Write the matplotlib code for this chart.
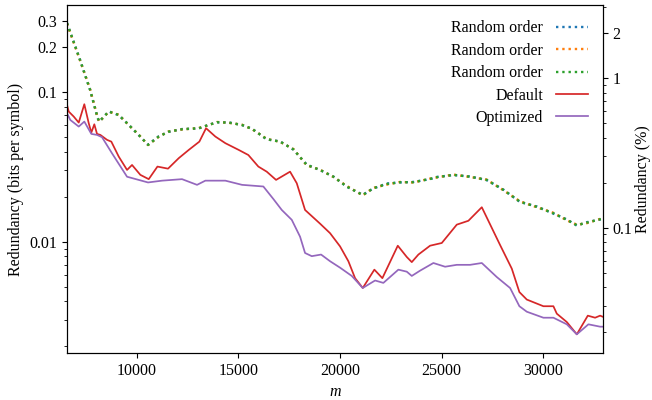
import matplotlib
matplotlib.use("Agg")
import matplotlib.pyplot as plt
from matplotlib.ticker import FixedLocator, FixedFormatter, NullFormatter

plt.rcParams["font.family"] = ["Liberation Serif", "DejaVu Serif"]
plt.rcParams["font.size"] = 11.5

# Random orderings (three runs, nearly identical)
m_random = [6570, 7210, 7702, 8081, 8160, 8622, 9114, 9606, 10098, 10556,
            11083, 11575, 12229, 13051, 13543, 13952, 14527, 15182, 15674, 16397,
            17052, 17706, 18366, 19020, 19675, 20334, 21121, 21643, 22303, 22957,
            23611, 24433, 24763, 25580, 26402, 27223, 28040, 28862, 29684, 30501,
            31161, 31653, 32145, 32947]
random_1 = [0.290, 0.165, 0.104, 0.067, 0.0636, 0.0745, 0.0702, 0.0606, 0.0516, 0.0446,
            0.0507, 0.0543, 0.0567, 0.0572, 0.0606, 0.0628, 0.0628, 0.0602, 0.0570, 0.0483,
            0.0469, 0.0413, 0.0328, 0.0301, 0.0273, 0.0233, 0.0206, 0.0227, 0.0245, 0.0249,
            0.0251, 0.0262, 0.0271, 0.0279, 0.0273, 0.0258, 0.0223, 0.0184, 0.0172, 0.0154,
            0.0141, 0.0128, 0.0135, 0.0142]
random_2 = [0.288, 0.163, 0.105, 0.067, 0.0634, 0.0740, 0.0707, 0.0602, 0.0520, 0.0443,
            0.0503, 0.0547, 0.0563, 0.0576, 0.0602, 0.0632, 0.0624, 0.0606, 0.0566, 0.0487,
            0.0465, 0.0417, 0.0324, 0.0303, 0.0271, 0.0236, 0.0204, 0.0229, 0.0241, 0.0251,
            0.0249, 0.0264, 0.0269, 0.0281, 0.0271, 0.0260, 0.0221, 0.0186, 0.0170, 0.0156,
            0.0139, 0.0130, 0.0133, 0.0144]
random_3 = [0.290, 0.164, 0.104, 0.067, 0.0636, 0.0742, 0.0705, 0.0604, 0.0518, 0.0444,
            0.0505, 0.0545, 0.0565, 0.0574, 0.0604, 0.0630, 0.0626, 0.0604, 0.0568, 0.0485,
            0.0467, 0.0415, 0.0326, 0.0302, 0.0272, 0.0234, 0.0205, 0.0228, 0.0243, 0.0250,
            0.0250, 0.0263, 0.0270, 0.0280, 0.0272, 0.0259, 0.0222, 0.0185, 0.0171, 0.0155,
            0.0140, 0.0129, 0.0134, 0.0143]

m_default = [6570, 6654, 6900, 7146, 7421, 7638, 7766, 7913, 8046, 8209,
             8538, 8750, 9114, 9523, 9769, 10177, 10590, 11019, 11540, 12067,
             12559, 13081, 13410, 13868, 14360, 15019, 15492, 15984, 16397, 16855,
             17544, 17874, 18282, 19020, 19512, 20004, 20413, 20743, 21121, 21692,
             22086, 22844, 23287, 23533, 23858, 24433, 25009, 25747, 26318, 26978,
             27878, 28454, 28828, 29192, 30009, 30501, 30668, 31161, 31653, 32194,
             32553, 32799, 33045]
default = [0.0822, 0.0742, 0.0687, 0.0626, 0.0831, 0.0620, 0.0537, 0.0610, 0.0526, 0.0518,
           0.0480, 0.0467, 0.0371, 0.0302, 0.0326, 0.0280, 0.0262, 0.0318, 0.0308, 0.0362,
           0.0411, 0.0467, 0.0574, 0.0505, 0.0456, 0.0411, 0.0380, 0.0318, 0.0294, 0.0259,
           0.0294, 0.0246, 0.0163, 0.0132, 0.0114, 0.0093, 0.0074, 0.0057, 0.0049, 0.0065,
           0.0057, 0.0094, 0.0079, 0.0073, 0.0082, 0.0094, 0.0098, 0.0130, 0.0138, 0.0170,
           0.0095, 0.0066, 0.0046, 0.0041, 0.0037, 0.0037, 0.0033, 0.0029, 0.0024, 0.0032,
           0.0031, 0.0032, 0.0031]

m_optimized = [6570, 6732, 7146, 7421, 7766, 8046, 8292, 8784, 9523, 10556,
               11245, 12229, 12967, 13376, 14360, 15182, 16230, 16722, 17136, 17628,
               18036, 18282, 18612, 19070, 19512, 20004, 20580, 21121, 21727, 22135,
               22873, 23287, 23533, 23941, 24596, 25172, 25747, 26402, 26978, 27716,
               28370, 28828, 29192, 30009, 30501, 31161, 31653, 32224, 32799, 33045]
optimized = [0.0723, 0.0652, 0.0589, 0.0636, 0.0526, 0.0518, 0.0500, 0.0390, 0.0272, 0.0249,
             0.0256, 0.0262, 0.0240, 0.0256, 0.0256, 0.0240, 0.0234, 0.0193, 0.0163, 0.0140,
             0.0108, 0.0084, 0.0080, 0.0082, 0.0074, 0.0067, 0.0059, 0.0049, 0.0055, 0.0053,
             0.0065, 0.0063, 0.0059, 0.0064, 0.0072, 0.0068, 0.0070, 0.0070, 0.0072, 0.0058,
             0.0049, 0.0037, 0.0034, 0.0031, 0.0031, 0.0028, 0.0024, 0.0028, 0.0027, 0.0027]

pct_per_bit = 8.05  # right axis scale: % per bit/symbol
y_lo, y_hi = 0.0018, 0.382

fig = plt.figure(figsize=(6.52, 4.0), dpi=100)
ax = fig.add_axes([0.1028, 0.1175, 0.822, 0.8695])

ax.plot(m_random, random_1, ls=":", lw=1.7, color="tab:blue", label="Random order")
ax.plot(m_random, random_2, ls=":", lw=1.7, color="tab:orange", label="Random order")
ax.plot(m_random, random_3, ls=":", lw=1.7, color="tab:green", label="Random order")
ax.plot(m_default, default, lw=1.25, color="tab:red", label="Default")
ax.plot(m_optimized, optimized, lw=1.25, color="tab:purple", label="Optimized")

ax.set_yscale("log")
ax.set_xlim(6570, 32940)
ax.set_ylim(y_lo, y_hi)
ax.set_xticks([10000, 15000, 20000, 25000, 30000])
ax.yaxis.set_major_locator(FixedLocator([0.01, 0.1, 0.2, 0.3]))
ax.yaxis.set_major_formatter(FixedFormatter(["0.01", "0.1", "0.2", "0.3"]))
ax.yaxis.set_minor_locator(FixedLocator(
    [k * 0.001 for k in range(2, 10)] + [k * 0.01 for k in range(2, 10)]))
ax.yaxis.set_minor_formatter(NullFormatter())
ax.set_xlabel("m", fontstyle="italic")
ax.set_ylabel("Redundancy (bits per symbol)")

ax2 = ax.twinx()
ax2.set_yscale("log")
ax2.set_ylim(y_lo * pct_per_bit, y_hi * pct_per_bit)
ax2.yaxis.set_major_locator(FixedLocator([0.1, 1, 2]))
ax2.yaxis.set_major_formatter(FixedFormatter(["0.1", "1", "2"]))
ax2.yaxis.set_minor_locator(FixedLocator(
    [k * 0.01 for k in range(2, 10)] + [k * 0.1 for k in range(2, 10)] + [3]))
ax2.yaxis.set_minor_formatter(NullFormatter())
ax2.set_ylabel("Redundancy (%)", labelpad=1.5)

ax.legend(loc="upper right", frameon=False, markerfirst=False,
          handlelength=2.0, handletextpad=0.8, labelspacing=0.4,
          borderaxespad=0.55)

fig.savefig("out.png", dpi=100)
